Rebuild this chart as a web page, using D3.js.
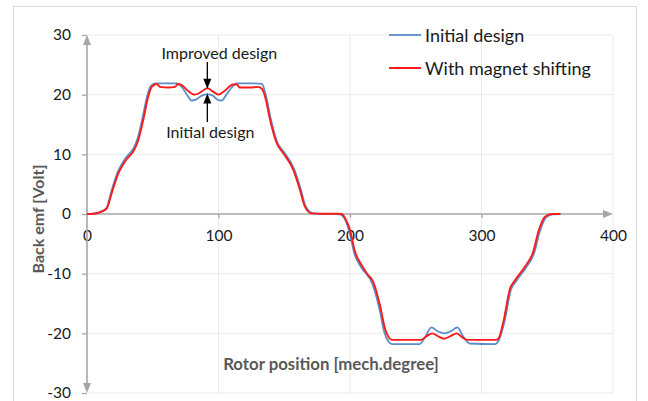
<!DOCTYPE html>
<html><head><meta charset="utf-8">
<script src="https://cdn.jsdelivr.net/npm/d3@7"></script>
<style>body{margin:0;background:#fff}svg{display:block}text{font-family:Lato,"Open Sans",sans-serif}</style>
</head><body>
<script>
// ---- data ----
const xTicks = [0, 100, 200, 300, 400];
const yTicks = [-30, -20, -10, 0, 10, 20, 30];
const seriesNames = ["Initial design", "With magnet shifting"];
const initialDesign = [
[0,0],[5,0.05],[11.1,0.45],[15,1.1],[18.5,3.8],[23.5,7.1],[28.5,9.1],[36,11.3],[38.5,12.7],[42.3,16.2],[46,20],[48.7,21.5],[52,21.9],[60,21.9],[68,21.9],[72,21.3],[76,20],[79.6,19.0],[83,19.2],[87,19.8],[91.5,20.1],[96,19.8],[99,19.2],[102.4,19.0],[106,20],[110,21.2],[113.8,21.9],[125,21.9],[133,21.8],[135.9,20],[139.7,16],[144.7,12],[149.8,10.4],[157.4,7.6],[162.5,4.2],[166.3,1.3],[171.4,0.15],[180,0],[190,0],
[193,-0.1],[199.5,-2.9],[203.3,-6.6],[208.4,-8.9],[217.2,-11.8],[222.3,-15.8],[226.1,-19.8],[229,-21.3],[232,-21.8],[253,-21.8],[257,-20.7],[261.9,-19.0],[267,-19.7],[272,-20.0],[277,-19.6],[281.6,-19.0],[286,-20.5],[291,-21.7],[310,-21.8],[313.5,-21],[317.3,-18.2],[322.4,-12.7],[326.2,-11.3],[333.8,-9],[340.1,-6.5],[344,-3.2],[349,-0.6],[354,-0.05],[360,0]
];
const magnetShifting = [
[0,0],[5,0.05],[11.1,0.4],[15,0.95],[18.8,3.5],[23.8,6.8],[28.9,8.8],[36.5,11.0],[39,12.4],[42.8,15.8],[46.6,19.7],[49.2,21.3],[53,21.8],[55.5,21.3],[62,21.2],[67,21.3],[69,21.8],[72,21.6],[77,20.6],[82,20.0],[87,20.5],[91.5,21.1],[96,20.5],[100,20.0],[105,20.7],[111,21.7],[114,21.7],[116,21.2],[124,21.2],[130,21.3],[133,21.0],[135.4,19.7],[139.2,15.8],[144.2,11.9],[149.3,10.2],[156.9,7.4],[162,4.0],[165.8,1.2],[170.9,0.1],[180,0.05],[190,0.05],
[193.7,0],[196.5,-0.8],[200,-2.7],[203.8,-6.3],[208.9,-8.6],[213,-10],[217.7,-11.4],[222.8,-15.3],[226.6,-19.2],[229.5,-20.7],[232,-21.1],[254,-21.1],[258,-20.5],[262.6,-20.0],[267,-20.5],[271.5,-20.9],[276,-20.5],[281.2,-20.0],[285,-20.6],[289.2,-21.1],[310.8,-21.1],[312.8,-20.9],[316.6,-18.1],[321.7,-12.5],[325.5,-11.1],[333.1,-8.8],[339.4,-6.3],[343.2,-3.0],[348.3,-0.45],[353.4,0],[360,0]
];
const annotations = [
  {text:"Improved design", x:91.5, tip:21.0},
  {text:"Initial design", x:91.5, tip:20.2}
];
const xTitle = "Rotor position [mech.degree]";
const yTitle = "Back emf [Volt]";

// ---- drawing ----
const W = 648, H = 401;
const svg = d3.select("body").append("svg").attr("width", W).attr("height", H);
const x = d3.scaleLinear().domain([0, 400]).range([87, 613]);
const y = d3.scaleLinear().domain([-30, 30]).range([393, 35]);
const axisCol = "#a6a6a6", gridCol = "#ebebeb", txtCol = "#1a1a1a", titleCol = "#595959";

// chart border
svg.append("rect").attr("x", 13.5).attr("y", 6.5).attr("width", 623).attr("height", 420)
  .attr("fill", "none").attr("stroke", "#d9d9d9").attr("stroke-width", 1);

// grid
const g = svg.append("g");
g.selectAll(".hg").data(yTicks.filter(d => d !== 0)).join("line")
  .attr("x1", x(0)).attr("x2", x(400)).attr("y1", d => y(d)).attr("y2", d => y(d))
  .attr("stroke", gridCol).attr("stroke-width", 1);
g.selectAll(".vg").data(xTicks.filter(d => d !== 0)).join("line")
  .attr("x1", d => x(d)).attr("x2", d => x(d)).attr("y1", y(30)).attr("y2", y(-30))
  .attr("stroke", gridCol).attr("stroke-width", 1);

// axes via d3 axis generators
const fmt = d => String(d);
const yAxis = svg.append("g").attr("transform", `translate(${x(0)},0)`)
  .call(d3.axisLeft(y).tickValues(yTicks).tickSize(5).tickPadding(11).tickFormat(fmt));
const xAxis = svg.append("g").attr("transform", `translate(0,${y(0)})`)
  .call(d3.axisBottom(x).tickValues(xTicks).tickSize(4).tickPadding(12).tickFormat(fmt));
[yAxis, xAxis].forEach(a => {
  a.select(".domain").remove();
  a.selectAll(".tick line").attr("stroke", axisCol).attr("stroke-width", 1.3);
  a.selectAll(".tick text").attr("fill", txtCol).style("font-size", "15.5px").style("font-family", "Lato");
});
xAxis.selectAll(".tick").filter(d => d === 0 || d === 400).select("line").remove();
yAxis.selectAll(".tick text").attr("dx", "0").attr("x", -16);

// axis lines with arrows
svg.append("line").attr("x1", x(0)).attr("x2", x(0)).attr("y1", y(30) + 6).attr("y2", y(-30) - 6)
  .attr("stroke", axisCol).attr("stroke-width", 1.6);
svg.append("line").attr("x1", x(0)).attr("x2", x(400) - 6).attr("y1", y(0)).attr("y2", y(0))
  .attr("stroke", axisCol).attr("stroke-width", 1.6);
const tri = (cx, cy, dir) => {
  const L = 10, w = 4;
  if (dir === "up") return `M${cx},${cy} L${cx - w},${cy + L} L${cx + w},${cy + L}Z`;
  if (dir === "down") return `M${cx},${cy} L${cx - w},${cy - L} L${cx + w},${cy - L}Z`;
  return `M${cx},${cy} L${cx - L},${cy - w} L${cx - L},${cy + w}Z`;
};
svg.append("path").attr("d", tri(x(0), y(30), "up")).attr("fill", axisCol);
svg.append("path").attr("d", tri(x(0), y(-30), "down")).attr("fill", axisCol);
svg.append("path").attr("d", tri(x(400), y(0), "right")).attr("fill", axisCol);

// lines
const line = d3.line().x(d => x(d[0])).y(d => y(d[1])).curve(d3.curveMonotoneX);
svg.append("path").datum(initialDesign).attr("d", line)
  .attr("fill", "none").attr("stroke", "#5b8ec8").attr("stroke-width", 1.8).attr("stroke-linejoin", "round");
svg.append("path").datum(magnetShifting).attr("d", line)
  .attr("fill", "none").attr("stroke", "#ff1a1a").attr("stroke-width", 1.9).attr("stroke-linejoin", "round");

// annotations
const ax = x(annotations[0].x);
svg.append("text").attr("x", ax + 12).attr("y", 59.3).attr("text-anchor", "middle")
  .attr("fill", txtCol).style("font-size", "16px").text(annotations[0].text);
svg.append("line").attr("x1", ax).attr("x2", ax).attr("y1", 62).attr("y2", y(annotations[0].tip) - 8)
  .attr("stroke", "#000").attr("stroke-width", 1.3);
svg.append("path").attr("d", tri(ax, y(annotations[0].tip), "down")).attr("fill", "#000");
svg.append("text").attr("x", ax + 3).attr("y", 138.3).attr("text-anchor", "middle")
  .attr("fill", txtCol).style("font-size", "16px").text(annotations[1].text);
svg.append("line").attr("x1", ax).attr("x2", ax).attr("y1", 122).attr("y2", y(annotations[1].tip) + 8)
  .attr("stroke", "#000").attr("stroke-width", 1.3);
svg.append("path").attr("d", tri(ax, y(annotations[1].tip), "up")).attr("fill", "#000");

// legend
const legCols = ["#5b8ec8", "#ff1a1a"];
const leg = svg.append("g");
seriesNames.forEach((n, i) => {
  const ly = 35 + i * 33;
  leg.append("line").attr("x1", 389).attr("x2", 421).attr("y1", ly).attr("y2", ly)
    .attr("stroke", legCols[i]).attr("stroke-width", i ? 2 : 1.8);
  leg.append("text").attr("x", 425).attr("y", ly + 6.5).attr("fill", txtCol)
    .style("font-size", "18px").text(n);
});

// titles
svg.append("text").attr("x", 331).attr("y", 370).attr("text-anchor", "middle")
  .attr("fill", titleCol).style("font-size", "16.8px").style("font-weight", "bold").text(xTitle);
svg.append("text").attr("transform", "translate(43.5,219) rotate(-90)").attr("text-anchor", "middle")
  .attr("fill", titleCol).style("font-size", "16px").style("font-weight", "bold").text(yTitle);
</script>
</body></html>
